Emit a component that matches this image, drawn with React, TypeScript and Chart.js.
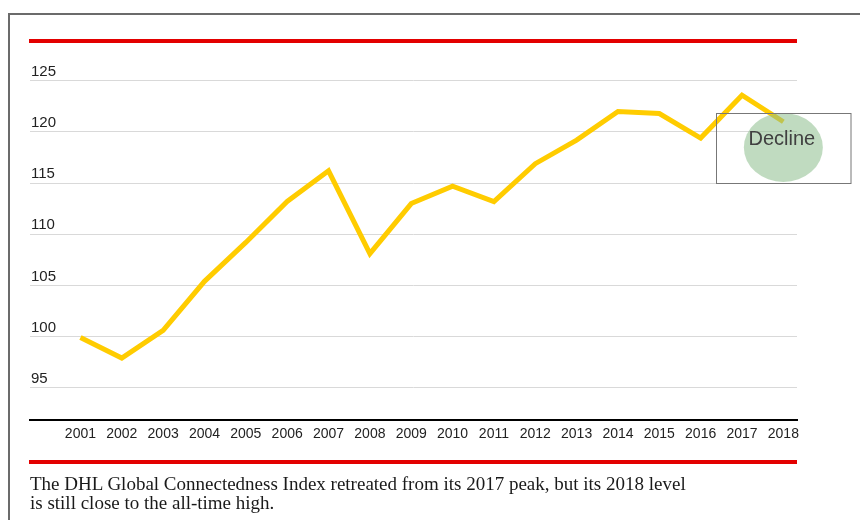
import React, { useEffect, useRef } from "react";
import { Chart, registerables } from "chart.js";

Chart.register(...registerables);

const years = [2001, 2002, 2003, 2004, 2005, 2006, 2007, 2008, 2009, 2010, 2011, 2012, 2013, 2014, 2015, 2016, 2017, 2018];
const indexValues = [99.9, 97.9, 100.6, 105.4, 109.2, 113.2, 116.2, 108.1, 113.0, 114.7, 113.2, 116.9, 119.2, 122.0, 121.8, 119.4, 123.6, 121.0];
const yTickValues = [95, 100, 105, 110, 115, 120, 125];
const annotationLabel = "Decline";
const annotationYear = 2018;
const annotationTop = 121.9;
const annotationBottom = 115.07;
const captionLines = [
  "The DHL Global Connectedness Index retreated from its 2017 peak, but its 2018 level",
  "is still close to the all-time high.",
];

const annotationPlugin = {
  id: "declineAnnotation",
  afterDatasetsDraw(chart: any) {
    const { ctx, scales } = chart;
    const x = scales.x.getPixelForValue(annotationYear);
    const yTop = scales.y.getPixelForValue(annotationTop);
    const yBot = scales.y.getPixelForValue(annotationBottom);
    const cy = (yTop + yBot) / 2;
    ctx.save();
    ctx.fillStyle = "rgba(140,190,140,0.55)";
    ctx.beginPath();
    ctx.ellipse(x, cy, 39.5, 34.5, 0, 0, Math.PI * 2);
    ctx.fill();
    ctx.strokeStyle = "#777777";
    ctx.lineWidth = 1;
    ctx.strokeRect(Math.round(x - 67.3) + 0.5, Math.round(yTop) + 0.5, 134.5, Math.round(yBot - yTop));
    ctx.fillStyle = "#404040";
    ctx.font = "20px 'Liberation Sans', Arial, sans-serif";
    ctx.textAlign = "center";
    ctx.textBaseline = "middle";
    ctx.fillText(annotationLabel, x - 1.5, cy - 7.5);
    ctx.restore();
  },
};

export default function App() {
  const canvasRef = useRef<HTMLCanvasElement | null>(null);

  useEffect(() => {
    if (!canvasRef.current) return;
    const chart = new Chart(canvasRef.current, {
      type: "line",
      data: {
        datasets: [
          {
            data: years.map((yr, i) => ({ x: yr, y: indexValues[i] })),
            borderColor: "#FFCC00",
            borderWidth: 5,
            pointRadius: 0,
            tension: 0,
            fill: false,
            borderJoinStyle: "miter",
          },
        ],
      },
      options: {
        responsive: false,
        animation: false,
        layout: { padding: { left: 28, right: 63, top: 44, bottom: 71.4 } },
        plugins: { legend: { display: false }, tooltip: { enabled: false } },
        scales: {
          x: {
            type: "linear",
            min: 1999.78,
            max: 2018.33,
            afterBuildTicks: (axis: any) => {
              axis.ticks = years.map((v) => ({ value: v }));
            },
            grid: { display: false, drawTicks: false },
            border: { display: true, color: "#000000", width: 2 },
            ticks: {
              autoSkip: false,
              maxRotation: 0,
              padding: 6,
              color: "#222222",
              font: { family: "'Liberation Sans', Arial, sans-serif", size: 14 },
              callback: (v: any) => String(v),
            },
          },
          y: {
            min: 91.86,
            max: 128.6,
            afterBuildTicks: (axis: any) => {
              axis.ticks = yTickValues.map((v) => ({ value: v }));
            },
            grid: { color: "#d9d9d9", lineWidth: 1, drawTicks: false },
            border: { display: false },
            ticks: {
              mirror: true,
              padding: 1,
              labelOffset: -9,
              color: "#222222",
              font: { family: "'Liberation Sans', Arial, sans-serif", size: 15 },
              callback: (v: any) => String(v),
            },
          },
        },
      },
      plugins: [annotationPlugin],
    });
    return () => chart.destroy();
  }, []);

  return (
    <div style={{ position: "fixed", inset: 0, overflow: "hidden", background: "#fff" }}>
      <div
        style={{
          position: "absolute",
          left: 8,
          top: 13,
          width: 900,
          height: 600,
          border: "2px solid #6b6b6b",
        }}
      />
      <div style={{ position: "absolute", left: 29, top: 39, width: 768, height: 4, background: "#e30000" }} />
      <div style={{ position: "absolute", left: 29, top: 460, width: 768, height: 4, background: "#e30000" }} />
      <canvas ref={canvasRef} width={860} height={520} style={{ position: "absolute", left: 0, top: 0 }} />
      <div
        style={{
          position: "absolute",
          left: 30,
          top: 474,
          fontFamily: "'Liberation Serif', 'Times New Roman', serif",
          fontSize: 19,
          lineHeight: "19px",
          color: "#1a1a1a",
          whiteSpace: "nowrap",
        }}
      >
        {captionLines.map((l, i) => (
          <div key={i}>{l}</div>
        ))}
      </div>
    </div>
  );
}
